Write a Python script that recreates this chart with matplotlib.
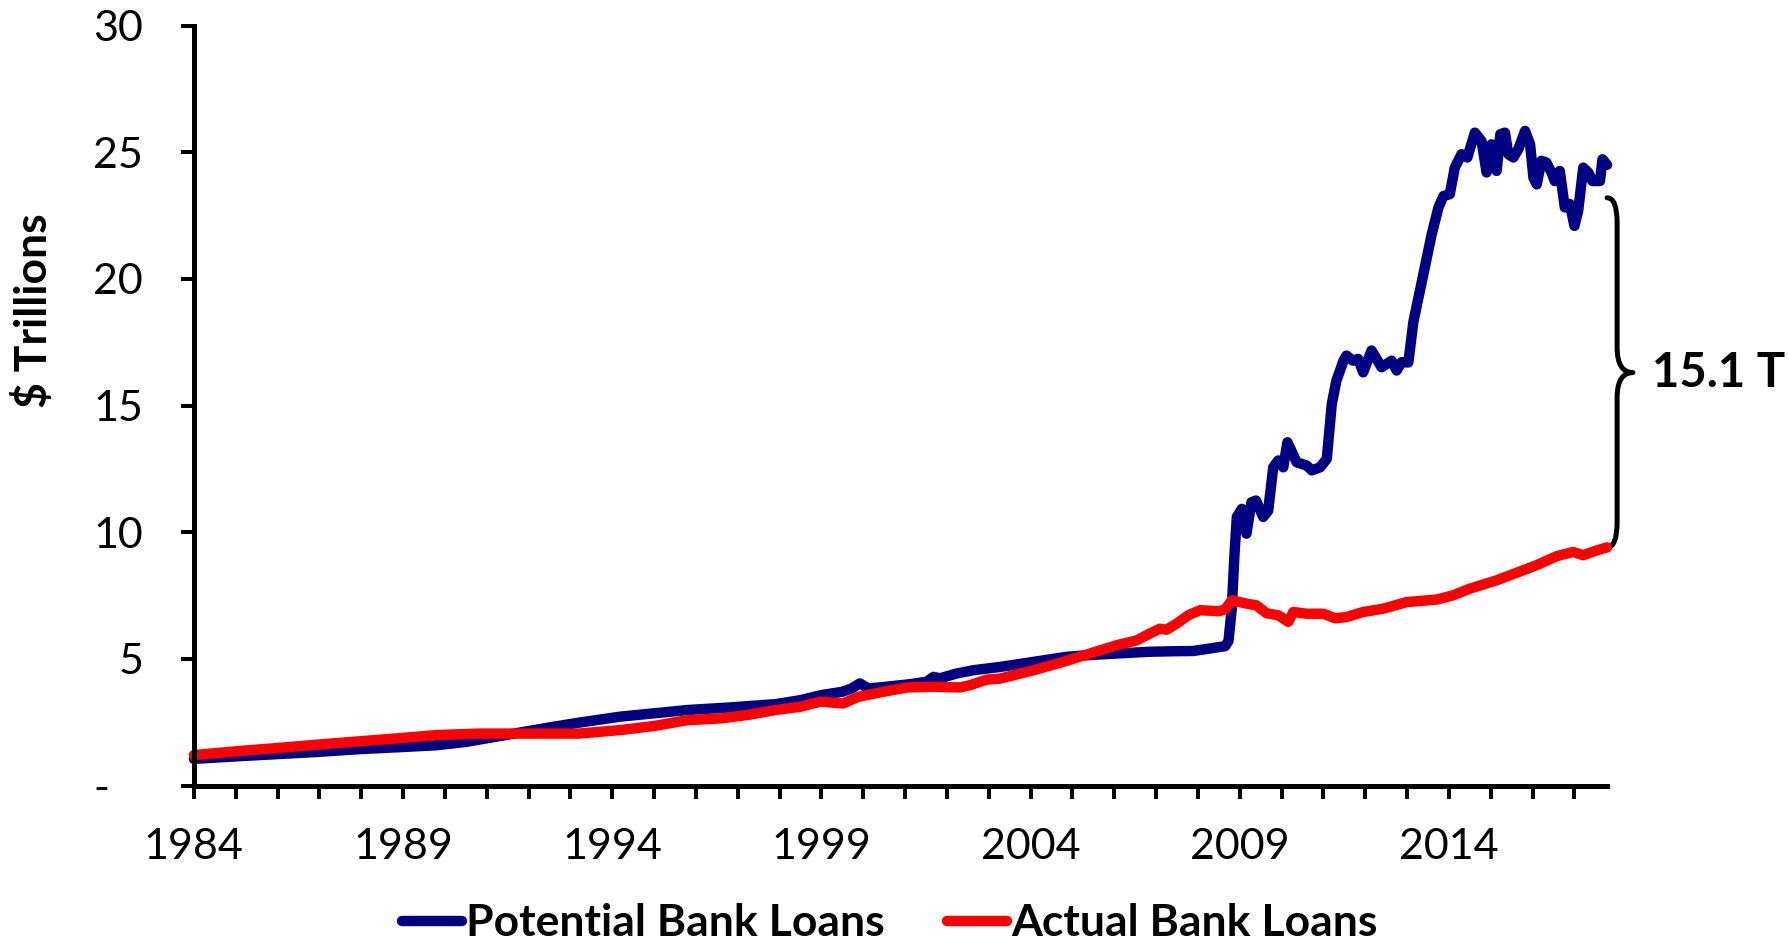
import numpy as np
import matplotlib
matplotlib.use("Agg")
import matplotlib.pyplot as plt
from matplotlib.path import Path
from matplotlib.patches import PathPatch
from matplotlib.lines import Line2D

plt.rcParams['font.family'] = ['Lato', 'DejaVu Sans']

# Potential Bank Loans ($ trillions)
potential_years = [
    1984.0, 1985.0, 1986.0, 1987.0, 1988.0, 1989.0, 1989.8, 1990.5, 1991.2, 1992.0,
    1992.6, 1993.2, 1994.2, 1995.0, 1995.8, 1996.8, 1997.9, 1998.5, 1999.0, 1999.5,
    1999.72, 1999.92, 2000.12, 2000.56, 2001.12, 2001.52, 2001.68, 2001.83, 2002.23, 2002.63,
    2003.27, 2004.07, 2004.86, 2005.42, 2006.06, 2006.85, 2007.4, 2007.89, 2008.05, 2008.45,
    2008.65, 2008.73, 2008.81, 2008.87, 2008.93, 2009.05, 2009.16, 2009.28, 2009.39, 2009.56,
    2009.68, 2009.8, 2009.92, 2010.04, 2010.14, 2010.36, 2010.6, 2010.72, 2010.92, 2011.08,
    2011.2, 2011.31, 2011.48, 2011.55, 2011.71, 2011.83, 2011.95, 2012.15, 2012.39, 2012.63,
    2012.75, 2012.87, 2013.03, 2013.15, 2013.39, 2013.59, 2013.75, 2013.87, 2014.02, 2014.14,
    2014.3, 2014.44, 2014.62, 2014.78, 2014.9, 2015.02, 2015.14, 2015.23, 2015.34, 2015.42,
    2015.54, 2015.66, 2015.82, 2015.94, 2016.02, 2016.1, 2016.21, 2016.33, 2016.45, 2016.53,
    2016.65, 2016.77, 2016.89, 2017.0, 2017.09, 2017.21, 2017.33, 2017.43, 2017.61, 2017.67,
    2017.78,
]
potential_vals = [
    1.05, 1.15, 1.24, 1.33, 1.44, 1.52, 1.59, 1.72, 1.92, 2.15,
    2.32, 2.48, 2.72, 2.85, 2.98, 3.08, 3.21, 3.37, 3.57, 3.70,
    3.83, 4.03, 3.83, 3.90, 4.00, 4.10, 4.29, 4.23, 4.42, 4.55,
    4.68, 4.88, 5.08, 5.15, 5.21, 5.28, 5.30, 5.31, 5.35, 5.45,
    5.50, 5.70, 7.00, 9.00, 10.60, 10.92, 9.94, 11.18, 11.25, 10.60,
    10.85, 12.56, 12.83, 12.56, 13.55, 12.76, 12.63, 12.44, 12.56, 12.89,
    15.06, 15.98, 16.77, 16.97, 16.77, 16.84, 16.31, 17.17, 16.51, 16.77,
    16.38, 16.71, 16.70, 18.30, 20.19, 21.77, 22.82, 23.27, 23.34, 24.39,
    24.92, 24.79, 25.77, 25.44, 24.20, 25.31, 24.26, 25.71, 25.77, 24.92,
    24.79, 25.12, 25.84, 25.31, 23.99, 23.73, 24.66, 24.59, 24.20, 23.86,
    24.26, 22.82, 22.95, 22.09, 22.69, 24.39, 24.20, 23.86, 23.86, 24.72,
    24.50,
]

# Actual Bank Loans ($ trillions)
actual_years = [
    1984.0, 1985.0, 1986.0, 1987.0, 1988.0, 1989.0, 1989.8, 1990.8, 1992.0, 1993.2,
    1994.2, 1995.0, 1995.8, 1996.6, 1997.3, 1997.9, 1998.5, 1998.97, 1999.52, 1999.88,
    2000.48, 2001.04, 2001.68, 2002.31, 2002.55, 2002.95, 2003.27, 2004.07, 2004.78, 2005.42,
    2006.06, 2006.54, 2006.85, 2007.09, 2007.25, 2007.49, 2007.77, 2008.05, 2008.5, 2008.65,
    2008.81, 2009.16, 2009.4, 2009.64, 2009.92, 2010.16, 2010.28, 2010.6, 2011.0, 2011.28,
    2011.55, 2011.95, 2012.43, 2012.99, 2013.71, 2014.1, 2014.5, 2015.14, 2015.62, 2016.1,
    2016.57, 2016.97, 2017.21, 2017.53, 2017.78,
]
actual_vals = [
    1.20, 1.35, 1.48, 1.62, 1.75, 1.88, 1.99, 2.05, 2.05, 2.05,
    2.19, 2.35, 2.58, 2.65, 2.80, 2.98, 3.11, 3.31, 3.24, 3.50,
    3.70, 3.87, 3.90, 3.87, 3.96, 4.18, 4.22, 4.55, 4.88, 5.21,
    5.54, 5.73, 6.00, 6.19, 6.15, 6.39, 6.72, 6.92, 6.88, 6.95,
    7.31, 7.18, 7.11, 6.80, 6.72, 6.46, 6.85, 6.78, 6.78, 6.60,
    6.65, 6.85, 6.98, 7.24, 7.34, 7.51, 7.77, 8.10, 8.40, 8.70,
    9.05, 9.22, 9.09, 9.28, 9.40,
]

year_ticks = list(range(1984, 2018))
year_labels = [str(y) if (y - 1984) % 5 == 0 else "" for y in year_ticks]
y_ticks = [0, 5, 10, 15, 20, 25, 30]
y_labels = ["-   ", "5", "10", "15", "20", "25", "30"]
gap_label = "15.1 T"

blue = "#000080"
red = "#FF0000"

fig = plt.figure(figsize=(17.9, 9.48), dpi=100)
ax = fig.add_axes([0.1083, 0.1714, 0.7895, 0.8017])

ax.plot(potential_years, potential_vals, color=blue, lw=7.5,
        solid_capstyle='round', solid_joinstyle='round', clip_on=False)
ax.plot(actual_years, actual_vals, color=red, lw=7.5,
        solid_capstyle='round', solid_joinstyle='round', clip_on=False)

ax.set_xlim(1984, 2017.78)
ax.set_ylim(0, 30)

for s in ['top', 'right']:
    ax.spines[s].set_visible(False)
for s in ['left', 'bottom']:
    ax.spines[s].set_linewidth(3.6)

ax.set_xticks(year_ticks)
ax.set_xticklabels(year_labels)
ax.set_yticks(y_ticks)
ax.set_yticklabels(y_labels)
ax.tick_params(axis='x', direction='out', length=9.5, width=2.9, pad=21, labelsize=31)
ax.tick_params(axis='y', direction='out', length=9.5, width=2.9, pad=27, labelsize=31)

ax.set_ylabel("$ Trillions", fontsize=32, fontweight='bold')
ax.yaxis.set_label_coords(-0.099, 0.625)

# curly brace marking the gap at the last observation
x0 = 2017.78
x1 = x0 + 0.24
xt = x0 + 0.62
ybot = actual_vals[-1]
ytop = potential_vals[-1] - 1.3
ymid = (ytop + ybot) / 2
r = 1.0
verts = [(x0, ytop), (x1, ytop), (x1, ytop - r),
         (x1, ymid + r), (x1, ymid), (xt, ymid),
         (x1, ymid), (x1, ymid - r),
         (x1, ybot + r), (x1, ybot), (x0, ybot)]
codes = [Path.MOVETO, Path.CURVE3, Path.CURVE3,
         Path.LINETO, Path.CURVE3, Path.CURVE3,
         Path.CURVE3, Path.CURVE3,
         Path.LINETO, Path.CURVE3, Path.CURVE3]
brace = PathPatch(Path(verts, codes), fill=False, lw=3.6, color='black',
                  clip_on=False, capstyle='round', joinstyle='round')
ax.add_patch(brace)
ax.text(x0 + 1.07, ymid, gap_label, fontsize=34, fontweight='bold',
        ha='left', va='center', clip_on=False)

handles = [Line2D([], [], color=blue, lw=7.5, solid_capstyle='round'),
           Line2D([], [], color=red, lw=7.5, solid_capstyle='round')]
fig.legend(handles, ["Potential Bank Loans", "Actual Bank Loans"],
           loc='center', bbox_to_anchor=(0.497, 0.026), ncol=2, frameon=False,
           prop={'size': 32, 'weight': 'bold'}, handlelength=1.35,
           handletextpad=0.1, columnspacing=1.4)

fig.savefig("out.png", dpi=100)
